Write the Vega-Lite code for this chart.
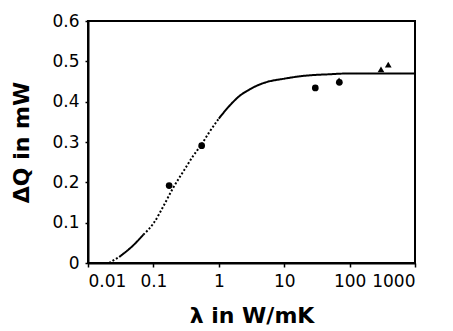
{
  "$schema": "https://vega.github.io/schema/vega-lite/v6.json",
  "autosize": {"type": "none"},
  "padding": {"left": 88, "top": 21, "right": 38, "bottom": 68},
  "width": 327,
  "height": 242,
  "config": {
    "view": {"stroke": "black", "strokeWidth": 2},
    "font": "DejaVu Sans",
    "axis": {
      "grid": false,
      "domainColor": "black",
      "domainWidth": 2,
      "tickColor": "black",
      "tickWidth": 1.5,
      "tickSize": 4,
      "labelColor": "black",
      "labelFont": "DejaVu Sans",
      "labelFontSize": 17,
      "labelOverlap": false,
      "titleColor": "black",
      "titleFont": "DejaVu Sans",
      "titleFontSize": 22,
      "titleFontWeight": "bold"
    }
  },
  "layer": [
    {
      "data": {"values": [
        {"x": 0.021, "y": 0.0, "seg": "s1", "style": "dotted"},
        {"x": 0.03, "y": 0.015, "seg": "s1", "style": "dotted"},
        {"x": 0.03, "y": 0.015, "seg": "s2", "style": "solid"},
        {"x": 0.05, "y": 0.045, "seg": "s2", "style": "solid"},
        {"x": 0.07, "y": 0.07, "seg": "s2", "style": "solid"},
        {"x": 0.07, "y": 0.07, "seg": "s3", "style": "dotted"},
        {"x": 0.1, "y": 0.098, "seg": "s3", "style": "dotted"},
        {"x": 0.15, "y": 0.148, "seg": "s3", "style": "dotted"},
        {"x": 0.2, "y": 0.186, "seg": "s3", "style": "dotted"},
        {"x": 0.3, "y": 0.232, "seg": "s3", "style": "dotted"},
        {"x": 0.4, "y": 0.264, "seg": "s3", "style": "dotted"},
        {"x": 0.55, "y": 0.295, "seg": "s3", "style": "dotted"},
        {"x": 0.7, "y": 0.322, "seg": "s3", "style": "dotted"},
        {"x": 1.0, "y": 0.358, "seg": "s3", "style": "dotted"},
        {"x": 1.0, "y": 0.358, "seg": "s4", "style": "solid"},
        {"x": 1.5, "y": 0.392, "seg": "s4", "style": "solid"},
        {"x": 2.0, "y": 0.412, "seg": "s4", "style": "solid"},
        {"x": 3.0, "y": 0.431, "seg": "s4", "style": "solid"},
        {"x": 5.0, "y": 0.447, "seg": "s4", "style": "solid"},
        {"x": 10.0, "y": 0.457, "seg": "s4", "style": "solid"},
        {"x": 20.0, "y": 0.464, "seg": "s4", "style": "solid"},
        {"x": 50.0, "y": 0.468, "seg": "s4", "style": "solid"},
        {"x": 100.0, "y": 0.47, "seg": "s4", "style": "solid"},
        {"x": 1000.0, "y": 0.47, "seg": "s4", "style": "solid"}
      ]},
      "mark": {"type": "line", "color": "black", "strokeWidth": 2, "clip": true, "interpolate": "monotone"},
      "encoding": {
        "x": {"field": "x", "type": "quantitative",
              "scale": {"type": "log", "domain": [0.01, 1000]},
              "axis": {"values": [0.01, 0.1, 1, 10, 100, 1000], "format": "~g", "labelPadding": 6, "title": "λ in W/mK", "titlePadding": 16}},
        "y": {"field": "y", "type": "quantitative",
              "scale": {"domain": [0, 0.6], "nice": false},
              "axis": {"values": [0, 0.1, 0.2, 0.3, 0.4, 0.5, 0.6], "format": "~g", "tickSize": 3, "labelPadding": 6, "title": "ΔQ in mW", "titlePadding": 18}},
        "detail": {"field": "seg"},
        "strokeDash": {"field": "style", "type": "nominal",
                       "scale": {"domain": ["solid", "dotted"], "range": [[1, 0], [2, 2]]},
                       "legend": null}
      }
    },
    {
      "data": {"values": [
        {"x": 0.174, "y": 0.192, "shape": "circle"},
        {"x": 0.547, "y": 0.291, "shape": "circle"},
        {"x": 29.9, "y": 0.434, "shape": "circle"},
        {"x": 69.7, "y": 0.448, "shape": "circle"},
        {"x": 69.0, "y": 0.453, "shape": "triangle-up"},
        {"x": 302, "y": 0.48, "shape": "triangle-up"},
        {"x": 390, "y": 0.492, "shape": "triangle-up"}
      ]},
      "mark": {"type": "point", "filled": true, "color": "black", "opacity": 1},
      "encoding": {
        "x": {"field": "x", "type": "quantitative", "scale": {"type": "log", "domain": [0.01, 1000]}},
        "y": {"field": "y", "type": "quantitative", "scale": {"domain": [0, 0.6], "nice": false}},
        "shape": {"field": "shape", "type": "nominal",
                  "scale": {"domain": ["circle", "triangle-up"], "range": ["circle", "triangle-up"]},
                  "legend": null},
        "size": {"value": 45}
      }
    }
  ]
}
